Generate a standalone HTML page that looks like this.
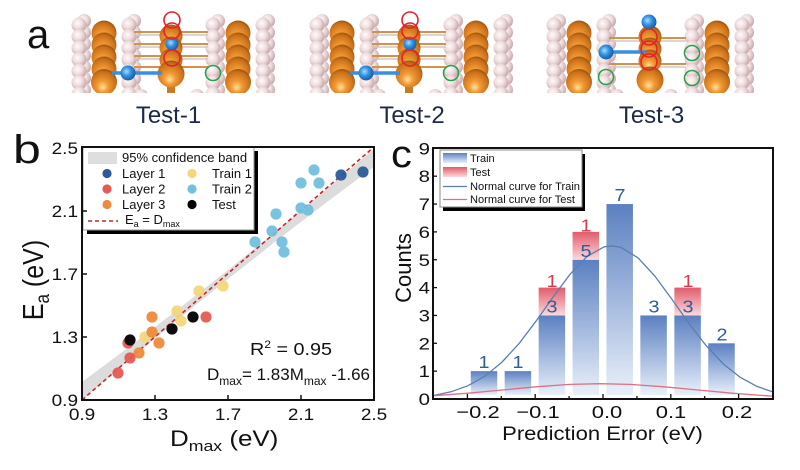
<!DOCTYPE html>
<html>
<head>
<meta charset="utf-8">
<style>
html,body{margin:0;padding:0;background:#fff;}
svg{display:block;}
text{font-family:"Liberation Sans",Arial,sans-serif;}
</style>
</head>
<body>
<svg width="800" height="470" viewBox="0 0 800 470" xmlns="http://www.w3.org/2000/svg">
<defs>
  <radialGradient id="pk" cx="0.4" cy="0.38" r="0.65">
    <stop offset="0" stop-color="#fffafa"/>
    <stop offset="0.5" stop-color="#eedcdd"/>
    <stop offset="1" stop-color="#c4a3a6"/>
  </radialGradient>
  <radialGradient id="or" cx="0.45" cy="0.6" r="0.6" fx="0.45" fy="0.72">
    <stop offset="0" stop-color="#ffe39a"/>
    <stop offset="0.35" stop-color="#f29a35"/>
    <stop offset="0.85" stop-color="#c96e18"/>
    <stop offset="1" stop-color="#9a5512"/>
  </radialGradient>
  <radialGradient id="bl" cx="0.4" cy="0.4" r="0.6">
    <stop offset="0" stop-color="#a8dcff"/>
    <stop offset="0.5" stop-color="#2f93e3"/>
    <stop offset="1" stop-color="#1b5fa5"/>
  </radialGradient>
  <linearGradient id="gTr" x1="0" y1="0" x2="0" y2="1">
    <stop offset="0" stop-color="#5b80c1"/>
    <stop offset="1" stop-color="#e9f0fa"/>
  </linearGradient>
  <linearGradient id="gTe" x1="0" y1="0" x2="0" y2="1">
    <stop offset="0" stop-color="#e25b6b"/>
    <stop offset="1" stop-color="#fbd9dc"/>
  </linearGradient>
  <clipPath id="clipA"><rect x="0" y="8" width="800" height="85"/></clipPath>
  <clipPath id="clipB"><rect x="82" y="147" width="292" height="253"/></clipPath>
  <g id="wall">
    <g fill="url(#pk)">
      <circle cx="5" cy="21" r="7"/><circle cx="5" cy="32.5" r="7"/><circle cx="5" cy="44" r="7"/>
      <circle cx="5" cy="55.5" r="7"/><circle cx="5" cy="67" r="7"/><circle cx="5" cy="78.5" r="7"/><circle cx="5" cy="90" r="7"/>
      <circle cx="0" cy="25" r="7.5"/><circle cx="0" cy="36.5" r="7.5"/><circle cx="0" cy="48" r="7.5"/>
      <circle cx="0" cy="59.5" r="7.5"/><circle cx="0" cy="71" r="7.5"/><circle cx="0" cy="82.5" r="7.5"/><circle cx="0" cy="94" r="7.5"/>
      <circle cx="55" cy="21" r="7"/><circle cx="55" cy="32.5" r="7"/><circle cx="55" cy="44" r="7"/>
      <circle cx="55" cy="55.5" r="7"/><circle cx="55" cy="67" r="7"/><circle cx="55" cy="78.5" r="7"/><circle cx="55" cy="90" r="7"/>
      <circle cx="50" cy="25" r="7.5"/><circle cx="50" cy="36.5" r="7.5"/><circle cx="50" cy="48" r="7.5"/>
      <circle cx="50" cy="59.5" r="7.5"/><circle cx="50" cy="71" r="7.5"/><circle cx="50" cy="82.5" r="7.5"/><circle cx="50" cy="94" r="7.5"/>
    </g>
    <g fill="url(#or)">
      <circle cx="25" cy="33" r="12.5"/><circle cx="25" cy="45" r="12.5"/><circle cx="25" cy="57" r="12.5"/>
      <circle cx="25" cy="69" r="12.5"/><circle cx="25" cy="82" r="13"/>
    </g>
  </g>
  <g id="s1">
    <use href="#wall" x="79"/>
    <use href="#wall" x="213"/>
    <g stroke="#d4914c" stroke-width="2">
      <line x1="134" y1="32" x2="208" y2="32"/><line x1="134" y1="44" x2="208" y2="44"/>
      <line x1="134" y1="56" x2="208" y2="56"/><line x1="134" y1="67" x2="208" y2="67"/>
    </g>
    <g stroke="#cfc7c7" stroke-width="1.5">
      <line x1="134" y1="35" x2="208" y2="35"/><line x1="134" y1="47" x2="208" y2="47"/>
      <line x1="134" y1="59" x2="208" y2="59"/>
    </g>
    <rect x="167" y="84" width="8" height="10" fill="#c97a25"/>
    <g fill="url(#or)">
      <circle cx="171" cy="36" r="11.5"/><circle cx="171" cy="48" r="11.5"/><circle cx="171" cy="60" r="11.5"/>
      <circle cx="171" cy="74" r="13.5"/>
    </g>
    <line x1="112" y1="73" x2="162" y2="73" stroke="#3a8ee0" stroke-width="3.5"/>
    <circle cx="128" cy="73" r="7.5" fill="url(#bl)"/>
    <circle cx="172" cy="44" r="6.5" fill="url(#bl)"/>
    <g fill="none" stroke="#e5222a" stroke-width="1.6">
      <circle cx="172" cy="20" r="8"/><circle cx="172" cy="31" r="8"/><circle cx="172" cy="58" r="8"/>
    </g>
    <circle cx="213" cy="73" r="7.5" fill="none" stroke="#2aa050" stroke-width="1.6"/>
    <circle cx="141" cy="96" r="7" fill="url(#pk)"/><circle cx="197" cy="96" r="7" fill="url(#pk)"/>
  </g>
</defs>

<!-- Panel a -->
<g clip-path="url(#clipA)">
  <use href="#s1"/>
  <use href="#s1" x="238"/>
  <!-- structure 3 -->
  <use href="#wall" x="554"/>
  <use href="#wall" x="692"/>
  <g stroke="#d4914c" stroke-width="2">
    <line x1="609" y1="38" x2="686" y2="38"/><line x1="609" y1="64" x2="686" y2="64"/>
  </g>
  <g stroke="#cfc7c7" stroke-width="1.5">
    <line x1="609" y1="41" x2="686" y2="41"/><line x1="609" y1="67" x2="686" y2="67"/>
  </g>
  <g fill="url(#or)">
    <circle cx="650" cy="37" r="11.5"/><circle cx="650" cy="49" r="11.5"/><circle cx="650" cy="61" r="11.5"/>
    <circle cx="650" cy="80" r="13.5"/>
  </g>
  <line x1="606" y1="52" x2="645" y2="52" stroke="#3a8ee0" stroke-width="3.5"/>
  <circle cx="606" cy="52" r="7.5" fill="url(#bl)"/>
  <circle cx="649" cy="22" r="7.5" fill="url(#bl)"/>
  <g fill="none" stroke="#e5222a" stroke-width="1.6">
    <circle cx="649" cy="37" r="8"/><circle cx="649" cy="49" r="8"/><circle cx="649" cy="62" r="8"/>
  </g>
  <g fill="none" stroke="#2aa050" stroke-width="1.6">
    <circle cx="606" cy="77" r="7.5"/><circle cx="692" cy="53" r="7.5"/><circle cx="692" cy="78" r="7.5"/>
  </g>
  <circle cx="617" cy="96" r="7" fill="url(#pk)"/><circle cx="671" cy="96" r="7" fill="url(#pk)"/>
</g>
<text x="27" y="48" font-size="40" fill="#111">a</text>
<g font-size="24" fill="#1c2a4a" text-anchor="middle">
  <text x="168.5" y="123">Test-1</text>
  <text x="412" y="123">Test-2</text>
  <text x="651.5" y="123">Test-3</text>
</g>

<!-- Panel b -->
<text transform="translate(13,163) scale(1.25,1)" font-size="40" fill="#111">b</text>
<g clip-path="url(#clipB)">
  <polygon fill="#dcdcdc" points="82,382 130,346.2 180,307.8 228,270 280,228 330,186.4 374,149 374,167 330,199.8 280,238 228,279 180,317.8 130,359.2 82,400"/>
  <line x1="82" y1="400" x2="374" y2="147" stroke="#c0282a" stroke-width="1.6" stroke-dasharray="4,3"/>
</g>
<g opacity="0.95">
  <g fill="#2c5b98"><circle cx="363" cy="172" r="5.6"/><circle cx="341" cy="175" r="5.6"/></g>
  <g fill="#72bfdf">
    <circle cx="314" cy="170" r="5.6"/><circle cx="301" cy="183" r="5.6"/><circle cx="319" cy="183" r="5.6"/>
    <circle cx="276" cy="214" r="5.6"/><circle cx="301" cy="208" r="5.6"/><circle cx="308" cy="210" r="5.6"/>
    <circle cx="272" cy="231" r="5.6"/><circle cx="255" cy="242" r="5.6"/><circle cx="282" cy="242" r="5.6"/>
    <circle cx="284" cy="252" r="5.6"/>
  </g>
  <g fill="#f4d67c">
    <circle cx="223" cy="286" r="5.6"/><circle cx="199" cy="291" r="5.6"/><circle cx="177" cy="311" r="5.6"/>
    <circle cx="181" cy="321" r="5.6"/><circle cx="145" cy="337" r="5.6"/>
  </g>
  <g fill="#ee8c3e">
    <circle cx="152" cy="317" r="5.6"/><circle cx="152" cy="332" r="5.6"/><circle cx="159" cy="343" r="5.6"/>
    <circle cx="139" cy="353" r="5.6"/>
  </g>
  <g fill="#e65a55">
    <circle cx="206" cy="317" r="5.6"/><circle cx="128" cy="343" r="5.6"/><circle cx="130" cy="358" r="5.6"/>
    <circle cx="118" cy="373" r="5.6"/>
  </g>
  <g fill="#000">
    <circle cx="193" cy="317" r="5.6"/><circle cx="172" cy="329" r="5.6"/><circle cx="130" cy="340" r="5.6"/>
  </g>
</g>
<!-- legend b -->
<rect x="87" y="151" width="171" height="83" fill="#000"/>
<rect x="83" y="147" width="171" height="83" fill="#fff" stroke="#999" stroke-width="1"/>
<rect x="88" y="152" width="29" height="12" fill="#dedede"/>
<g font-size="13" fill="#111">
  <text x="122" y="162">95% confidence band</text>
  <text x="122" y="178">Layer 1</text>
  <text x="212" y="178">Train 1</text>
  <text x="122" y="193.5">Layer 2</text>
  <text x="212" y="193.5">Train 2</text>
  <text x="122" y="209">Layer 3</text>
  <text x="212" y="209">Test</text>
  <text x="125" y="224">E<tspan font-size="9" dy="3">a</tspan><tspan dy="-3"> = D</tspan><tspan font-size="9" dy="3">max</tspan></text>
</g>
<circle cx="107" cy="173.5" r="4.6" fill="#2c5b98"/>
<circle cx="107" cy="189" r="4.6" fill="#e65a55"/>
<circle cx="107" cy="204.5" r="4.6" fill="#ee8c3e"/>
<circle cx="192" cy="173.5" r="4.6" fill="#f4d67c"/>
<circle cx="192" cy="189" r="4.6" fill="#72bfdf"/>
<circle cx="192" cy="204.5" r="4.6" fill="#000"/>
<line x1="88" y1="221" x2="118" y2="221" stroke="#c0282a" stroke-width="1.6" stroke-dasharray="4,3"/>
<!-- frame b -->
<rect x="82" y="147" width="292" height="253" fill="none" stroke="#111" stroke-width="2"/>
<g stroke="#111" stroke-width="1.5">
  <line x1="155" y1="400" x2="155" y2="395"/><line x1="228" y1="400" x2="228" y2="395"/><line x1="301" y1="400" x2="301" y2="395"/>
  <line x1="82" y1="337" x2="87" y2="337"/><line x1="82" y1="274" x2="87" y2="274"/><line x1="82" y1="211" x2="87" y2="211"/>
</g>
<g font-size="16.5" fill="#111" text-anchor="end">
  <text transform="translate(78,406) scale(1.15,1)">0.9</text>
  <text transform="translate(78,343) scale(1.15,1)">1.3</text>
  <text transform="translate(78,280) scale(1.15,1)">1.7</text>
  <text transform="translate(78,217) scale(1.15,1)">2.1</text>
  <text transform="translate(78,154) scale(1.15,1)">2.5</text>
</g>
<g font-size="16.5" fill="#111" text-anchor="middle">
  <text transform="translate(82,420) scale(1.15,1)">0.9</text>
  <text transform="translate(155,420) scale(1.15,1)">1.3</text>
  <text transform="translate(228,420) scale(1.15,1)">1.7</text>
  <text transform="translate(301,420) scale(1.15,1)">2.1</text>
  <text transform="translate(374,420) scale(1.15,1)">2.5</text>
</g>
<text transform="translate(170,446) scale(1.18,1)" font-size="22" fill="#111">D<tspan font-size="15" dy="5">max</tspan><tspan dy="-5"> (eV)</tspan></text>
<text transform="translate(43,280) scale(1.15,1) rotate(-90)" font-size="25" fill="#111" text-anchor="middle">E<tspan font-size="17" dy="5">a</tspan><tspan dy="-5"> (eV)</tspan></text>
<text transform="translate(250,355) scale(1.1,1)" font-size="18" fill="#111">R<tspan font-size="11" dy="-7">2</tspan><tspan dy="7"> = 0.95</tspan></text>
<text x="207" y="380" font-size="17" fill="#111">D<tspan font-size="12" dy="5">max</tspan><tspan dy="-5">= 1.83M</tspan><tspan font-size="12" dy="5">max</tspan><tspan dy="-5"> -1.66</tspan></text>

<!-- Panel c -->
<text transform="translate(391,167) scale(1.1,1)" font-size="38" fill="#111">c</text>
<!-- bars -->
<g>
  <rect x="470.75" y="371.15" width="26.5" height="23.85" fill="url(#gTr)"/>
  <rect x="504.65" y="371.15" width="26.5" height="23.85" fill="url(#gTr)"/>
  <rect x="538.65" y="315.45" width="26.5" height="79.55" fill="url(#gTr)"/>
  <rect x="572.55" y="259.75" width="26.5" height="135.25" fill="url(#gTr)"/>
  <rect x="606.45" y="204.05" width="26.5" height="190.95" fill="url(#gTr)"/>
  <rect x="640.35" y="315.45" width="26.5" height="79.55" fill="url(#gTr)"/>
  <rect x="674.35" y="315.45" width="26.5" height="79.55" fill="url(#gTr)"/>
  <rect x="708.25" y="343.3" width="26.5" height="51.7" fill="url(#gTr)"/>
  <rect x="538.65" y="287.6" width="26.5" height="27.85" fill="url(#gTe)"/>
  <rect x="572.55" y="231.9" width="26.5" height="27.85" fill="url(#gTe)"/>
  <rect x="674.35" y="287.6" width="26.5" height="27.85" fill="url(#gTe)"/>
</g>
<!-- curves -->
<polyline fill="none" stroke="#5a7fb4" stroke-width="1.3" points="434,395.35 451,391.8 468,385.7 485,376.1 502,362.1 519,343.6 536,321.2 553,297.1 570,274.3 587,256.5 604,246.9 611.7,245.8 621,247.4 638,257.8 655,276.3 672,299.4 689,323.5 706,345.5 723,363.6 740,377.2 757,386.4 773,391.95"/>
<polyline fill="none" stroke="#e07080" stroke-width="1.3" points="434,395.7 468,393.2 502,390 536,386.8 570,384.4 600,383.7 630,384.4 664,386.8 698,390 732,393.2 766,395.7 773,396.1"/>
<!-- bar labels -->
<g font-size="18" fill="#2d5d9f" text-anchor="middle">
  <text transform="translate(484,368) scale(1.1,1)">1</text>
  <text transform="translate(518,368) scale(1.1,1)">1</text>
  <text transform="translate(552,312.5) scale(1.1,1)">3</text>
  <text transform="translate(586,257) scale(1.1,1)">5</text>
  <text transform="translate(620,201) scale(1.1,1)">7</text>
  <text transform="translate(654,312.5) scale(1.1,1)">3</text>
  <text transform="translate(688,312.5) scale(1.1,1)">3</text>
  <text transform="translate(722,340.5) scale(1.1,1)">2</text>
</g>
<g font-size="18" fill="#d23c4c" text-anchor="middle">
  <text transform="translate(552,287) scale(1.1,1)">1</text>
  <text transform="translate(586,231.5) scale(1.1,1)">1</text>
  <text transform="translate(688,287) scale(1.1,1)">1</text>
</g>
<!-- legend c -->
<rect x="443" y="154" width="142" height="57" fill="#000"/>
<rect x="440" y="150" width="142" height="57" fill="#fff" stroke="#888" stroke-width="1"/>
<rect x="443" y="153" width="24" height="10" fill="url(#gTr)"/>
<rect x="443" y="167" width="24" height="10" fill="url(#gTe)"/>
<line x1="443" y1="186.5" x2="467" y2="186.5" stroke="#5a7fb4" stroke-width="1.3"/>
<line x1="443" y1="199.5" x2="467" y2="199.5" stroke="#e07080" stroke-width="1.3"/>
<g font-size="11" fill="#111">
  <text x="470" y="162">Train</text>
  <text x="470" y="176">Test</text>
  <text x="470" y="190" textLength="110" lengthAdjust="spacingAndGlyphs">Normal curve for Train</text>
  <text x="470" y="203" textLength="105" lengthAdjust="spacingAndGlyphs">Normal curve for Test</text>
</g>
<!-- frame c -->
<rect x="433" y="148" width="340" height="251" fill="none" stroke="#111" stroke-width="2"/>
<g stroke="#111" stroke-width="1.3">
  <line x1="467.4" y1="399" x2="467.4" y2="394"/><line x1="501.3" y1="399" x2="501.3" y2="396"/>
  <line x1="535.2" y1="399" x2="535.2" y2="394"/><line x1="569.1" y1="399" x2="569.1" y2="396"/>
  <line x1="603" y1="399" x2="603" y2="394"/><line x1="636.9" y1="399" x2="636.9" y2="396"/>
  <line x1="670.8" y1="399" x2="670.8" y2="394"/><line x1="704.7" y1="399" x2="704.7" y2="396"/>
  <line x1="738.6" y1="399" x2="738.6" y2="394"/>
  <line x1="433" y1="371.15" x2="437" y2="371.15"/><line x1="433" y1="343.3" x2="437" y2="343.3"/>
  <line x1="433" y1="315.45" x2="437" y2="315.45"/><line x1="433" y1="287.6" x2="437" y2="287.6"/>
  <line x1="433" y1="259.75" x2="437" y2="259.75"/><line x1="433" y1="231.9" x2="437" y2="231.9"/>
  <line x1="433" y1="204.05" x2="437" y2="204.05"/><line x1="433" y1="176.2" x2="437" y2="176.2"/>
</g>
<g font-size="17" fill="#111" text-anchor="end">
  <text transform="translate(430,405) scale(1.2,1)">0</text>
  <text transform="translate(430,377.15) scale(1.2,1)">1</text>
  <text transform="translate(430,349.3) scale(1.2,1)">2</text>
  <text transform="translate(430,321.45) scale(1.2,1)">3</text>
  <text transform="translate(430,293.6) scale(1.2,1)">4</text>
  <text transform="translate(430,265.75) scale(1.2,1)">5</text>
  <text transform="translate(430,237.9) scale(1.2,1)">6</text>
  <text transform="translate(430,210.05) scale(1.2,1)">7</text>
  <text transform="translate(430,182.2) scale(1.2,1)">8</text>
  <text transform="translate(430,154.35) scale(1.2,1)">9</text>
</g>
<g font-size="18" fill="#111" text-anchor="middle">
  <text transform="translate(478,418) scale(1.22,1)">−0.2</text>
  <text transform="translate(538,418) scale(1.22,1)">−0.1</text>
  <text transform="translate(607,418) scale(1.22,1)">0.0</text>
  <text transform="translate(671,418) scale(1.22,1)">0.1</text>
  <text transform="translate(737,418) scale(1.22,1)">0.2</text>
</g>
<text transform="translate(602.5,440) scale(1.16,1)" font-size="19" fill="#111" text-anchor="middle">Prediction Error (eV)</text>
<text transform="translate(411,268) rotate(-90)" font-size="22" fill="#111" text-anchor="middle">Counts</text>
</svg>
</body>
</html>
